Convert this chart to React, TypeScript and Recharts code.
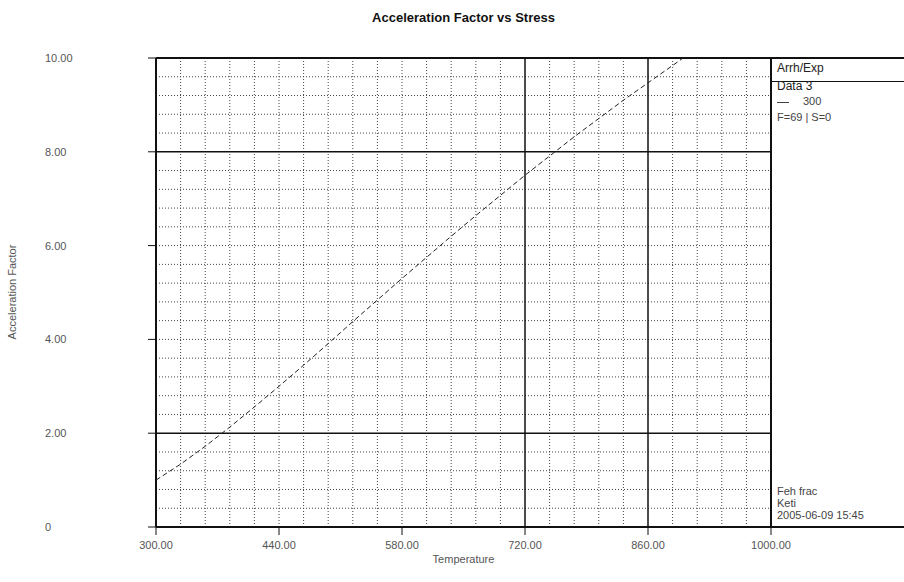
import React from "react";
import {
  LineChart,
  Line,
  XAxis,
  YAxis,
  ReferenceLine,
} from "recharts";

// temperature samples and the acceleration factor read at each one
const temps = [
  300, 328, 356, 384, 412, 440, 468, 496, 524, 552, 580, 608, 636, 664, 692,
  720, 748, 776, 804, 832, 860, 888, 900,
];
const accel = [
  1.0, 1.34, 1.72, 2.13, 2.56, 3.0, 3.45, 3.91, 4.38, 4.84, 5.3, 5.75, 6.2,
  6.64, 7.07, 7.5, 7.91, 8.32, 8.71, 9.1, 9.47, 9.84, 10.0,
];

const xTicks = [300, 440, 580, 720, 860, 1000];
const yTicks = [0, 2, 4, 6, 8, 10];
const xTickLabels = ["300.00", "440.00", "580.00", "720.00", "860.00", "1000.00"];
const yTickLabels = ["0", "2.00", "4.00", "6.00", "8.00", "10.00"];

// heavy rules drawn solid, the rest of the grid is dotted
const xHeavy = [720, 860];
const yHeavy = [2, 8];
const xMinor = Array.from({ length: 24 }, (_, i) => 328 + i * 28).filter(
  (v) => !xHeavy.includes(v)
);
const yMinor = Array.from({ length: 24 }, (_, i) =>
  Math.round((0.4 + i * 0.4) * 10) / 10
).filter((v) => !yHeavy.includes(v));

const legendLines = ["Arrh/Exp", "Data 3", "300", "F=69 | S=0"];
const stampLines = ["Feh frac", "Keti", "2005-06-09 15:45"];

const data = temps.map((t, i) => ({ t, af: accel[i] }));

const font = "'Liberation Sans', Arial, sans-serif";

const XTick = (props: any) => {
  const { x, y, payload } = props;
  const i = xTicks.indexOf(payload.value);
  return (
    <text x={x} y={y + 12} textAnchor="middle" fontSize={11} fill="#555" fontFamily={font}>
      {xTickLabels[i]}
    </text>
  );
};

const YTick = (props: any) => {
  const { y, payload } = props;
  const i = yTicks.indexOf(payload.value);
  return (
    <text x={45} y={y + 4} textAnchor="start" fontSize={11} fill="#555" fontFamily={font}>
      {yTickLabels[i]}
    </text>
  );
};

export default function App() {
  return (
    <div
      style={{
        position: "absolute",
        left: 0,
        top: 0,
        width: 904,
        height: 582,
        background: "#fff",
        fontFamily: font,
      }}
    >
      <div
        style={{
          position: "absolute",
          top: 10,
          left: 156,
          width: 615,
          textAlign: "center",
          fontSize: 13,
          fontWeight: "bold",
          color: "#111",
        }}
      >
        Acceleration Factor vs Stress
      </div>

      <LineChart
        width={904}
        height={582}
        data={data}
        margin={{ top: 58, right: 133, bottom: 0, left: 0 }}
      >
        {xMinor.map((v) => (
          <ReferenceLine key={"xm" + v} x={v} stroke="#444" strokeDasharray="1 2" />
        ))}
        {yMinor.map((v) => (
          <ReferenceLine key={"ym" + v} y={v} stroke="#444" strokeDasharray="1 2" />
        ))}
        {xHeavy.map((v) => (
          <ReferenceLine key={"xh" + v} x={v} stroke="#111" strokeWidth={1.5} />
        ))}
        {yHeavy.map((v) => (
          <ReferenceLine key={"yh" + v} y={v} stroke="#111" strokeWidth={1.5} />
        ))}
        <ReferenceLine y={10} stroke="#111" strokeWidth={2} />
        <ReferenceLine x={1000} stroke="#111" strokeWidth={2} />
        <XAxis
          dataKey="t"
          type="number"
          domain={[300, 1000]}
          ticks={xTicks}
          height={55}
          axisLine={{ stroke: "#111", strokeWidth: 2 }}
          tickLine={{ stroke: "#111" }}
          tickSize={8}
          tick={<XTick />}
          interval={0}
        />
        <YAxis
          type="number"
          domain={[0, 10]}
          ticks={yTicks}
          width={156}
          axisLine={{ stroke: "#111", strokeWidth: 2 }}
          tickLine={{ stroke: "#111" }}
          tickSize={8}
          tick={<YTick />}
          interval={0}
        />
        <Line
          dataKey="af"
          stroke="#222"
          strokeWidth={1}
          strokeDasharray="5 3"
          dot={false}
          isAnimationActive={false}
        />
      </LineChart>

      {/* axis titles */}
      <div
        style={{
          position: "absolute",
          top: 553,
          left: 156,
          width: 615,
          textAlign: "center",
          fontSize: 11,
          color: "#555",
        }}
      >
        Temperature
      </div>
      <div
        style={{
          position: "absolute",
          left: 12,
          top: 292,
          transform: "translate(-50%, -50%) rotate(-90deg)",
          whiteSpace: "nowrap",
          fontSize: 11,
          color: "#555",
        }}
      >
        Acceleration Factor
      </div>

      {/* legend panel to the right of the plot */}
      <div
        style={{
          position: "absolute",
          left: 771,
          top: 57,
          width: 133,
          height: 22,
          borderTop: "2px solid #111",
          borderBottom: "1.5px solid #111",
        }}
      />
      <div style={{ position: "absolute", left: 777, top: 61, fontSize: 12, color: "#222" }}>
        {legendLines[0]}
      </div>
      <div style={{ position: "absolute", left: 777, top: 79, fontSize: 12, color: "#222" }}>
        {legendLines[1]}
      </div>
      <div style={{ position: "absolute", left: 777, top: 95, fontSize: 11, color: "#444" }}>
        <span
          style={{
            display: "inline-block",
            width: 12,
            borderTop: "1px solid #444",
            verticalAlign: "middle",
            marginRight: 14,
          }}
        />
        {legendLines[2]}
      </div>
      <div style={{ position: "absolute", left: 777, top: 111, fontSize: 11, color: "#444" }}>
        {legendLines[3]}
      </div>
      <div
        style={{
          position: "absolute",
          left: 771,
          top: 526,
          width: 133,
          borderTop: "2px solid #111",
        }}
      />
      {stampLines.map((s, i) => (
        <div
          key={s}
          style={{
            position: "absolute",
            left: 777,
            top: 485 + i * 12,
            fontSize: 11,
            lineHeight: "12px",
            color: "#444",
          }}
        >
          {s}
        </div>
      ))}
    </div>
  );
}
